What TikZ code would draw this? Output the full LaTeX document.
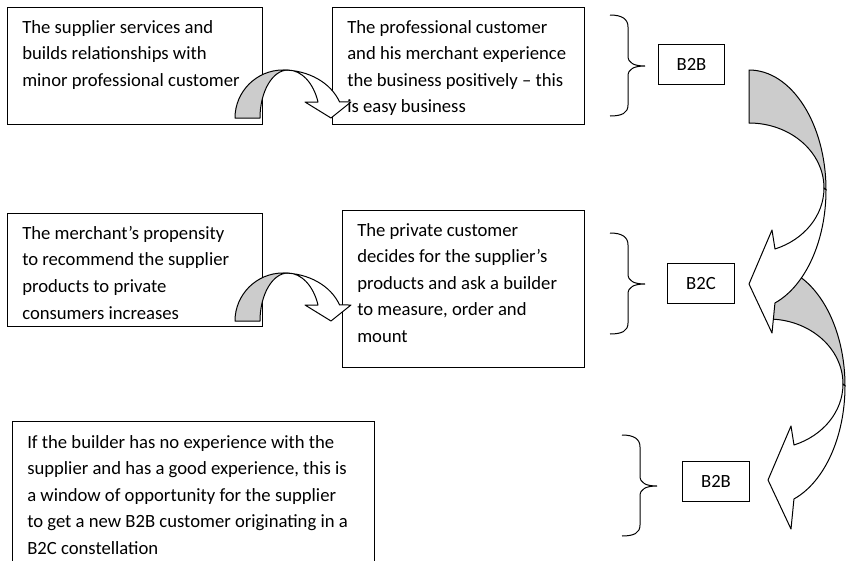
\documentclass[tikz,border=0pt]{standalone}
\usepackage{fontspec}
\setmainfont{Carlito}
\usetikzlibrary{fit}

\tikzset{
  box/.style={draw, line width=0.75pt, inner sep=0pt},
  txt/.style={anchor=north west, align=left, inner sep=0pt, font=\fontsize{14}{19.9}\selectfont},
  tag/.style={draw, line width=0.75pt, inner sep=0pt, minimum width=50pt, minimum height=30pt, font=\fontsize{14}{17}\selectfont},
  back/.style={draw, line width=0.75pt, fill=black!20, line join=round},
  front/.style={draw, line width=0.75pt, fill=white, line join=round},
  curly/.pic={
    \draw[line width=0.75pt] (0,0) .. controls (12,0) and (18,4) .. (18,12) -- (18,41)
      .. controls (18,48) and (24,51) .. (35,51) .. controls (24,51) and (18,54) .. (18,61)
      -- (18,90) .. controls (18,98) and (12,101) .. (0,101);
  },
  bend/.pic={
    \path[back] (235,118) arc[start angle=180, end angle=270, x radius=48, y radius=48]
      -- (288,70) arc[start angle=270, end angle=180, x radius=28, y radius=48] -- cycle;
    \path[front] (283,70) arc[start angle=270, end angle=340.5, x radius=60, y radius=48]
      -- (351,102) -- (331,118) -- (305,102) -- (318,102)
      arc[start angle=340.5, end angle=270, x radius=32, y radius=48] -- cycle;
  },
  swing/.pic={
    \path[back] (749,70) arc[start angle=270, end angle=360, x radius=77, y radius=120]
      -- (824,188) arc[start angle=0, end angle=-90, x radius=75, y radius=65] -- cycle;
    \path[front] (826,190) arc[start angle=0, end angle=70.3, x radius=77, y radius=120]
      -- (772,333) -- (749,284) -- (772,230) -- (775,249)
      arc[start angle=69.7, end angle=0, x radius=75, y radius=65] -- cycle;
  }
}

\begin{document}
\begin{tikzpicture}[x=0.75pt, y=-0.75pt]
\useasboundingbox (0,0) rectangle (847,561);
\clip (0,0) rectangle (847,561);

\node[box, fit={(7,7) (262,124)}] (sup) {};
\node[box, fit={(332,7) (584,124)}] (pro) {};
\node[box, fit={(7,213) (262,326)}] (mer) {};
\node[box, fit={(342,210) (584,367)}] (pri) {};
\node[box, fit={(12,421) (374,600)}] (bld) {};

\pic at (0,0) {bend};
\pic at (0,203) {bend};

\node[txt] (supt) at (22,20) {The supplier services and\\builds relationships with\\minor professional customer};
\node[txt] (prot) at (347,20) {The professional customer\\and his merchant experience\\the business positively – this\\is easy business};
\node[txt] (mert) at (22,226) {The merchant’s propensity\\to recommend the supplier\\products to private\\consumers increases};
\node[txt] (prit) at (357,223) {The private customer\\decides for the supplier’s\\products and ask a builder\\to measure, order and\\mount};
\node[txt] (bldt) at (27,435) {If the builder has no experience with the\\supplier and has a good experience, this is\\a window of opportunity for the supplier\\to get a new B2B customer originating in a\\B2C constellation};

\pic at (610,15) {curly};
\pic at (610,233) {curly};
\pic at (622,435) {curly};

\node[tag] (bb1) at (691.5,64) {B2B};
\node[tag] (bc) at (701,283.5) {B2C};
\node[tag] (bb2) at (716,481.5) {B2B};

\pic at (19,196) {swing};
\pic at (0,0) {swing};
\end{tikzpicture}
\end{document}
